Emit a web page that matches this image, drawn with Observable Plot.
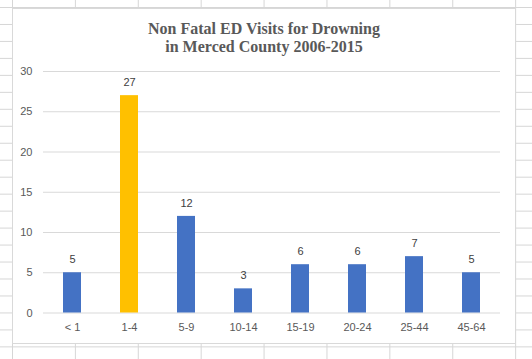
<!DOCTYPE html>
<html>
<head>
<meta charset="utf-8">
<script src="https://cdn.jsdelivr.net/npm/d3@7"></script>
<script src="https://cdn.jsdelivr.net/npm/@observablehq/plot@0.6"></script>
<style>
  html, body { margin: 0; padding: 0; width: 532px; height: 359px; overflow: hidden; background: #fff; }
  #sheet {
    position: absolute; left: 0; top: 0; width: 532px; height: 359px;
    background-image:
      linear-gradient(to right, #d6d6d6 1px, transparent 1px),
      linear-gradient(to bottom, #d6d6d6 1px, transparent 1px);
    background-size: 62.9px 100%, 100% 16.98px;
    background-position: 12px 0, 0 7px;
  }
  #box {
    position: absolute; left: 12px; top: 8px; width: 502px; height: 334px;
    background: #fff; border: 1px solid #d9d9d9;
  }
  #chart { position: absolute; left: 0; top: 0; }
  #chart svg { background: transparent; overflow: visible; }
</style>
</head>
<body>
<div id="sheet"></div>
<div id="box"></div>
<div id="chart"></div>
<script>
const ageGroups = ["< 1", "1-4", "5-9", "10-14", "15-19", "20-24", "25-44", "45-64"];
const visits = [5, 27, 12, 3, 6, 6, 7, 5];
const highlightGroup = "1-4";
const yTicks = [0, 5, 10, 15, 20, 25, 30];
const titleText = "Non Fatal ED Visits for Drowning\nin Merced County 2006-2015";

const data = ageGroups.map((g, i) => ({group: g, value: visits[i]}));

const chart = Plot.plot({
  width: 532,
  height: 359,
  marginLeft: 43,
  marginRight: 32,
  marginTop: 71,
  marginBottom: 46.5,
  style: {fontFamily: "'Liberation Sans', Arial, sans-serif", fontSize: "11px", color: "#595959", background: "transparent"},
  x: {domain: ageGroups, paddingInner: 0.69, paddingOuter: 0.345, label: null},
  y: {domain: [0, 30], ticks: yTicks, label: null},
  marks: [
    Plot.gridY(yTicks, {stroke: "#d9d9d9", strokeOpacity: 1, strokeWidth: 1}),
    Plot.barY(data, {x: "group", y: "value", fill: d => d.group === highlightGroup ? "#ffc000" : "#4472c4"}),
    Plot.text(data, {x: "group", y: "value", text: d => String(d.value), dy: -13, fill: "#404040", fontSize: 11}),
    Plot.axisY(yTicks, {tickSize: 0, tickPadding: 11, fill: "#595959", label: null}),
    Plot.axisX({tickSize: 0, tickPadding: 10, fill: "#595959", label: null}),
    Plot.text([titleText], {frameAnchor: "top", dx: -8, dy: -34, lineAnchor: "middle", lineHeight: 1.125,
      fontFamily: "'Liberation Serif', 'Times New Roman', serif", fontWeight: "bold", fontSize: 16, fill: "#595959"})
  ]
});
document.getElementById("chart").appendChild(chart);
</script>
</body>
</html>
